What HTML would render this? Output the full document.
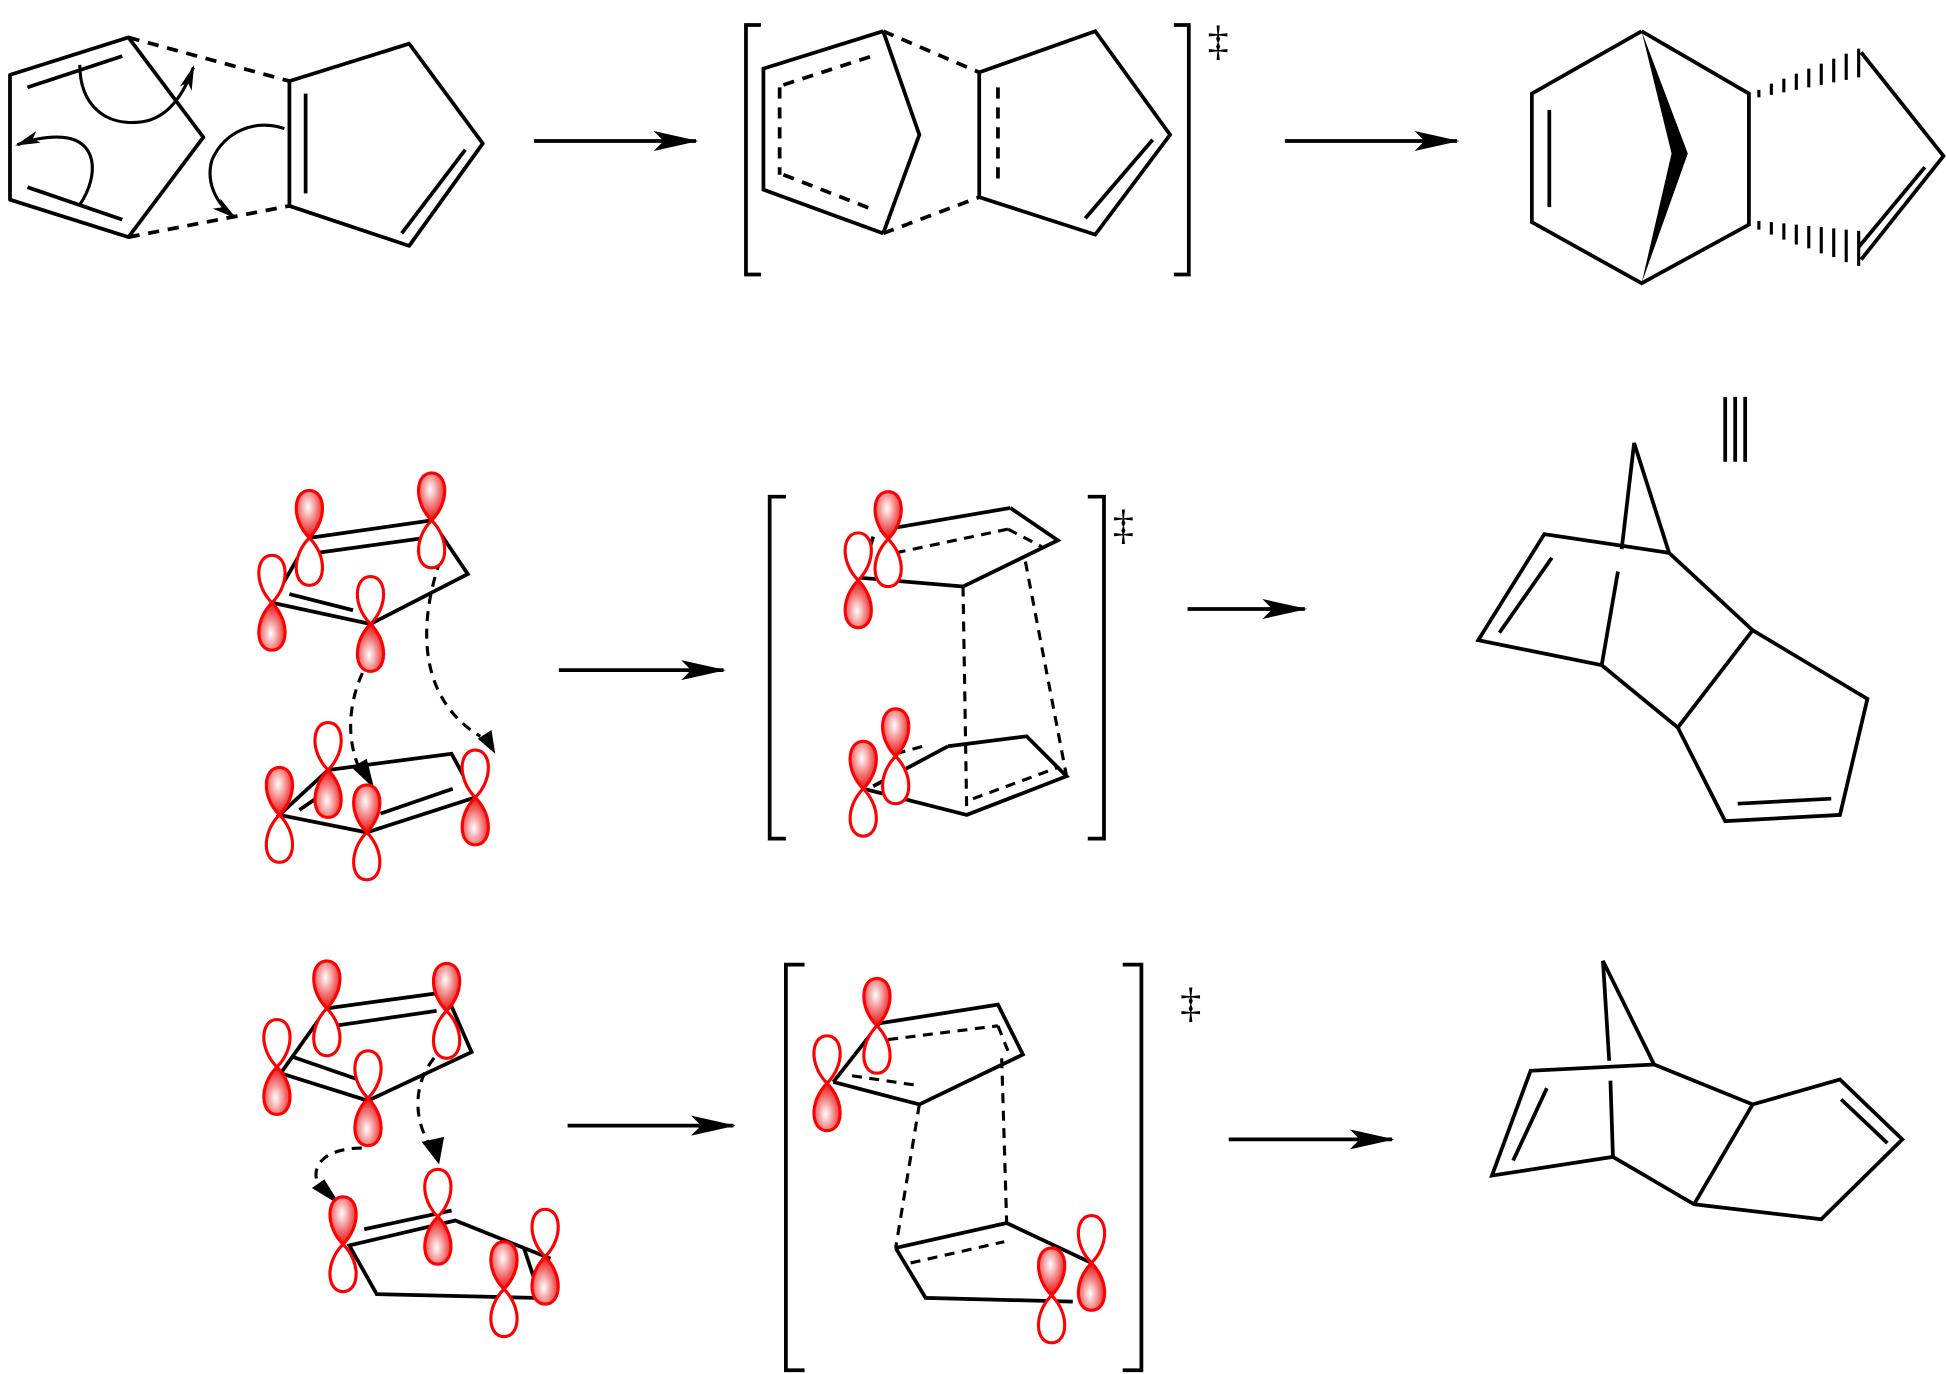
<!DOCTYPE html>
<html><head><meta charset="utf-8"><style>
html,body{margin:0;padding:0;background:#fff;}
svg{display:block;}
</style></head><body>
<svg width="1946" height="1374" viewBox="0 0 1560 1101" preserveAspectRatio="none" xmlns="http://www.w3.org/2000/svg">
<defs>
<radialGradient id="rg" cx="0.45" cy="0.35" r="0.7">
<stop offset="0" stop-color="#fff"/><stop offset="0.6" stop-color="#f06060"/><stop offset="1" stop-color="#e00000"/>
</radialGradient>
<path id="lobe" d="M0,0 C-15,-15 -13,-38 0,-38 C13,-38 15,-15 0,0Z"/>
<g id="up"><use href="#lobe" fill="url(#rg)" stroke="#f00" stroke-width="2.5"/><use href="#lobe" transform="scale(1,-1)" fill="#fff" stroke="#f00" stroke-width="2.5"/></g>
<g id="dn"><use href="#lobe" fill="#fff" stroke="#f00" stroke-width="2.5"/><use href="#lobe" transform="scale(1,-1)" fill="url(#rg)" stroke="#f00" stroke-width="2.5"/></g>
<marker id="ah" viewBox="0 0 20 10" refX="18" refY="5" markerWidth="20" markerHeight="10" markerUnits="userSpaceOnUse" orient="auto"><path d="M0,0 L20,5 L0,10 L5,5Z" fill="#000"/></marker>
<marker id="ah2" viewBox="0 0 36 16" refX="34" refY="8" markerWidth="36" markerHeight="16" markerUnits="userSpaceOnUse" orient="auto"><path d="M0,0 L36,8 L0,16 L8,8Z" fill="#000"/></marker>
</defs>
<g fill="none" stroke="#000" stroke-width="3" stroke-linejoin="round">
<!-- Row 1 -->
<polygon points="8,60 103,30 163,110 103,190 8,160"/>
<line x1="22" y1="70" x2="98" y2="45"/><line x1="22" y1="150" x2="98" y2="176"/>
<g stroke-dasharray="9,7"><line x1="103" y1="30" x2="232" y2="65"/><line x1="103" y1="190" x2="232" y2="165"/></g>
<polygon points="232,65 328,35 387,115 328,197 232,165"/>
<line x1="245" y1="75" x2="245" y2="155"/><line x1="373" y1="120" x2="322" y2="187"/>
</g>
<g fill="none" stroke="#000" stroke-width="2.5">
<path d="M64,52 C64,85 85,100 110,98 C130,97 145,82 155,54" marker-end="url(#ah)"/>
<path d="M64,164 C80,140 78,112 50,110 C35,109 22,113 14,116" marker-end="url(#ah)"/>
<path d="M228,103 C205,95 180,105 170,128 C165,145 172,162 188,174" marker-end="url(#ah)"/>
</g>
<g stroke="#000" stroke-width="3" fill="none">
<line x1="428" y1="113" x2="558" y2="113" marker-end="url(#ah2)"/>
<line x1="1030" y1="113" x2="1168" y2="113" marker-end="url(#ah2)"/>
<line x1="448" y1="537" x2="580" y2="537" marker-end="url(#ah2)"/>
<line x1="952" y1="488" x2="1046" y2="488" marker-end="url(#ah2)"/>
<line x1="455" y1="902" x2="588" y2="902" marker-end="url(#ah2)"/>
<line x1="985" y1="913" x2="1116" y2="913" marker-end="url(#ah2)"/>
<!-- brackets -->
<polyline points="610,20 598,20 598,220 610,220"/><polyline points="941,20 953,20 953,220 941,220"/>
<polyline points="630,398 617,398 617,672 630,672"/><polyline points="872,398 885,398 885,672 872,672"/>
<polyline points="645,773 630,773 630,1098 645,1098"/><polyline points="900,773 915,773 915,1098 900,1098"/>
<!-- TS row1 -->
<polyline points="708,25 612,55 612,152 708,187"/>
<polyline points="708,25 737,108 708,187"/>
<g stroke-dasharray="9,7"><line x1="625" y1="70" x2="625" y2="140"/><line x1="628" y1="68" x2="702" y2="44"/><line x1="628" y1="140" x2="700" y2="168"/>
<line x1="708" y1="25" x2="785" y2="58"/><line x1="708" y1="187" x2="785" y2="158"/><line x1="800" y1="70" x2="800" y2="148"/></g>
<polygon points="785,58 878,25 938,108 878,188 785,158"/>
<line x1="924" y1="112" x2="870" y2="175"/>
<!-- Product row1 -->
<polyline points="1316,25 1228,75 1228,178 1316,227 1402,180 1402,75 1316,25"/>
<line x1="1242" y1="88" x2="1242" y2="166"/>
<polyline points="1492,42 1558,125 1492,208"/><line x1="1543" y1="134" x2="1490" y2="198"/>
<!-- triple bar -->
<line x1="1383" y1="318" x2="1383" y2="370"/><line x1="1391" y1="318" x2="1391" y2="370"/><line x1="1399" y1="318" x2="1399" y2="370"/>
<!-- Product row2 -->
<polyline points="1338,443 1310,355 1300,440"/><line x1="1297" y1="458" x2="1284" y2="533"/>
<polyline points="1338,443 1238,428 1185,513 1284,533 1345,583 1383,658 1475,653 1497,560 1405,505 1338,443"/>
<line x1="1405" y1="505" x2="1345" y2="583"/>
<line x1="1244" y1="447" x2="1202" y2="507"/><line x1="1393" y1="644" x2="1468" y2="640"/>
<!-- Product row3 -->
<polyline points="1326,853 1285,770 1290,850"/><line x1="1291" y1="866" x2="1293" y2="927"/>
<polyline points="1326,853 1227,858 1196,942 1293,927 1358,965 1460,977 1525,913 1475,865 1405,885 1326,853"/>
<line x1="1405" y1="885" x2="1358" y2="965"/>
<line x1="1240" y1="872" x2="1213" y2="930"/><line x1="1476" y1="881" x2="1513" y2="916"/>
</g>
<polygon points="1316,25 1340,123 1316,227 1353,123" fill="#000"/>
<g stroke="#000" stroke-width="2.5">
<line x1="1410" y1="72" x2="1410" y2="78"/><line x1="1420" y1="67" x2="1420" y2="76"/><line x1="1430" y1="63" x2="1430" y2="74"/><line x1="1440" y1="59" x2="1440" y2="72"/><line x1="1450" y1="55" x2="1450" y2="70"/><line x1="1460" y1="51" x2="1460" y2="68"/><line x1="1470" y1="47" x2="1470" y2="66"/><line x1="1480" y1="43" x2="1480" y2="64"/><line x1="1490" y1="39" x2="1490" y2="62"/>
<line x1="1410" y1="177" x2="1410" y2="184"/><line x1="1420" y1="178" x2="1420" y2="188"/><line x1="1430" y1="179" x2="1430" y2="192"/><line x1="1440" y1="180" x2="1440" y2="196"/><line x1="1450" y1="181" x2="1450" y2="199"/><line x1="1460" y1="182" x2="1460" y2="203"/><line x1="1470" y1="183" x2="1470" y2="206"/><line x1="1480" y1="184" x2="1480" y2="210"/><line x1="1490" y1="185" x2="1490" y2="213"/>
</g>
<g font-family="Liberation Serif, serif" font-size="34" fill="#000">
<text x="968" y="44">‡</text><text x="892" y="432">‡</text><text x="946" y="815">‡</text>
</g>

<!-- Row2 top CPD -->
<g fill="none" stroke="#000" stroke-width="3">
<polygon points="248,431 346,417 375,460 297,500 218,483"/>
<line x1="254" y1="443" x2="341" y2="431"/><line x1="232" y1="476" x2="283" y2="489"/>
<polygon points="224,653 263,617 362,604 381,639 294,667"/>
<line x1="240" y1="649" x2="259" y2="636"/><line x1="305" y1="652" x2="363" y2="632"/>
</g>
<g fill="none" stroke="#000" stroke-width="2.5" stroke-dasharray="8,6">
<path d="M297,527 C280,555 275,590 290,620"/>
<path d="M353,449 C335,500 335,560 385,590"/>
</g>
<path d="M282,615 L300,632 L294,608Z" fill="#000"/>
<path d="M383,592 L397,604 L394,585Z" fill="#000"/>
<use href="#up" x="248" y="431"/><use href="#up" x="346" y="417"/>
<use href="#dn" x="218" y="483"/><use href="#dn" x="297" y="500"/>
<use href="#up" x="224" y="653"/><use href="#dn" x="263" y="617"/>
<use href="#up" x="294" y="667"/><use href="#dn" x="381" y="639"/>

<!-- TS row2 -->
<g fill="none" stroke="#000" stroke-width="3">
<polyline points="810,407 848,433 772,470"/><line x1="705" y1="425" x2="810" y2="407"/>
<line x1="690" y1="463" x2="772" y2="470"/><line x1="700" y1="430" x2="690" y2="463"/>
<polyline points="700,630 760,598"/><polyline points="760,598 823,590 855,622 775,653 692,632"/>
</g>
<g fill="none" stroke="#000" stroke-width="2.5" stroke-dasharray="8,6">
<line x1="718" y1="443" x2="808" y2="424"/><line x1="808" y1="424" x2="835" y2="438"/>
<line x1="772" y1="470" x2="775" y2="653"/><line x1="822" y1="450" x2="855" y2="622"/>
<line x1="718" y1="604" x2="740" y2="598"/><line x1="780" y1="640" x2="848" y2="615"/>
</g>
<use href="#up" x="712" y="432"/><use href="#dn" x="688" y="465"/>
<use href="#up" x="718" y="606"/><use href="#up" x="692" y="632"/>

<!-- Row3 top CPD -->
<g fill="none" stroke="#000" stroke-width="3">
<polygon points="262,808 357,795 378,843 295,882 225,860"/>
<line x1="268" y1="822" x2="350" y2="810"/><line x1="235" y1="847" x2="290" y2="866"/>
<polygon points="280,998 365,978 440,1008 428,1040 302,1037"/>
<line x1="292" y1="985" x2="362" y2="970"/><line x1="420" y1="1000" x2="430" y2="1030"/>
</g>
<g fill="none" stroke="#000" stroke-width="2.5" stroke-dasharray="8,6">
<path d="M358,838 C330,860 330,895 345,918"/>
<path d="M290,920 C260,920 245,935 258,955"/>
</g>
<path d="M338,915 L352,933 L356,911Z" fill="#000"/>
<path d="M250,952 L273,966 L260,945Z" fill="#000"/>
<use href="#up" x="262" y="808"/><use href="#up" x="358" y="810"/>
<use href="#dn" x="222" y="855"/><use href="#dn" x="295" y="880"/>
<use href="#up" x="275" y="997"/><use href="#dn" x="351" y="975"/>
<use href="#up" x="404" y="1033"/><use href="#dn" x="437" y="1007"/>

<!-- TS row3 -->
<g fill="none" stroke="#000" stroke-width="3">
<polyline points="705,820 800,805 820,845 737,885 668,867"/>
<line x1="705" y1="820" x2="668" y2="867"/>
<polyline points="718,1000 807,980 875,1012"/><polyline points="718,1000 742,1040 860,1043"/>
</g>
<g fill="none" stroke="#000" stroke-width="2.5" stroke-dasharray="8,6">
<line x1="712" y1="833" x2="800" y2="822"/><line x1="800" y1="822" x2="808" y2="842"/>
<line x1="683" y1="862" x2="737" y2="870"/>
<line x1="737" y1="885" x2="718" y2="1000"/><line x1="803" y1="848" x2="807" y2="980"/>
<line x1="730" y1="1012" x2="805" y2="995"/>
</g>
<use href="#up" x="703" y="822"/><use href="#dn" x="663" y="868"/>
<use href="#up" x="843" y="1038"/><use href="#dn" x="875" y="1012"/>
</svg>
</body></html>
